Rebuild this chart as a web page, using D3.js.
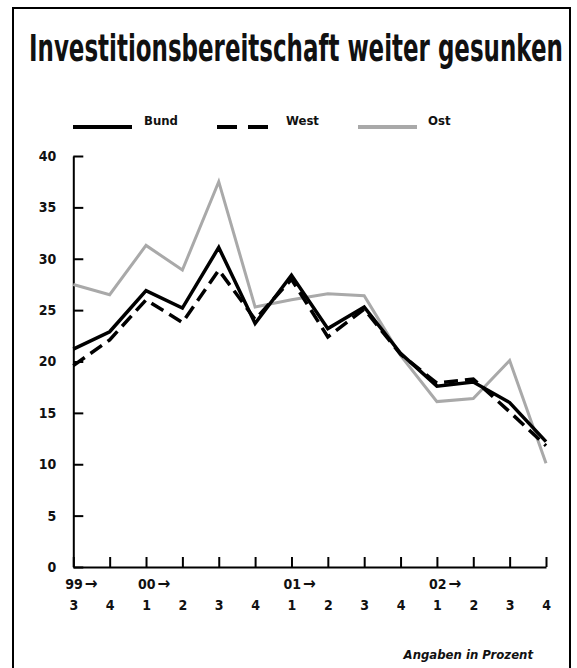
<!DOCTYPE html>
<html>
<head>
<meta charset="utf-8">
<script src="https://cdn.jsdelivr.net/npm/d3@7"></script>
<style>
  body { margin: 0; background: #fff; }
  text { font-family: "DejaVu Sans Condensed", "Liberation Sans Narrow", sans-serif; font-stretch: condensed; font-weight: bold; fill: #111; }
</style>
</head>
<body>
<script>
const w = 577,
  h = 668;

// quarters 1999 Q3 .. 2002 Q4
const quarters = ['3', '4', '1', '2', '3', '4', '1', '2', '3', '4', '1', '2', '3', '4'];
const years = [
  { idx: 0, label: '99' },
  { idx: 2, label: '00' },
  { idx: 6, label: '01' },
  { idx: 10, label: '02' }
];
const bund = [21.2, 22.9, 26.9, 25.2, 31.1, 23.7, 28.4, 23.2, 25.3, 20.8, 17.6, 18.0, 16.0, 12.2];
const west = [19.6, 22.1, 26.0, 23.8, 28.9, 24.1, 28.0, 22.4, 25.1, 20.7, 17.9, 18.3, 15.1, 11.8];
const ost = [27.5, 26.5, 31.3, 28.9, 37.5, 25.3, 26.0, 26.6, 26.4, 20.6, 16.1, 16.4, 20.1, 10.1];
const yTicks = [0, 5, 10, 15, 20, 25, 30, 35, 40];

const series = [
  { name: 'Bund', values: bund, color: '#000', dash: null, width: 3.5 },
  { name: 'West', values: west, color: '#000', dash: '14,7', width: 3.5 },
  { name: 'Ost', values: ost, color: '#a9a9a9', dash: null, width: 3 }
];

const svg = d3.select('body').append('svg').attr('width', w).attr('height', h);

// frame
svg.append('rect')
  .attr('x', 13).attr('y', 8)
  .attr('width', 557).attr('height', 680)
  .attr('fill', 'none').attr('stroke', '#000').attr('stroke-width', 2);

// title: squeeze horizontally to the reference width
const title = svg.append('text')
  .attr('x', 0).attr('y', 0)
  .style('font-size', '38px')
  .text('Investitionsbereitschaft weiter gesunken');
const tw = title.node().getComputedTextLength();
title.attr('transform', `translate(29,61) scale(${534 / tw},1)`);

const x = d3.scaleLinear().domain([0, quarters.length - 1]).range([73.3, 546]);
const y = d3.scaleLinear().domain([0, 40]).range([567, 156]);

// legend
const legend = [
  { s: series[0], x1: 73, x2: 132, tx: 144 },
  { s: series[1], x1: 217, x2: 269, tx: 286 },
  { s: series[2], x1: 358, x2: 417, tx: 428 }
];
legend.forEach(l => {
  svg.append('line')
    .attr('x1', l.x1).attr('x2', l.x2)
    .attr('y1', 127).attr('y2', 127)
    .attr('stroke', l.s.color)
    .attr('stroke-width', 4)
    .attr('stroke-dasharray', l.s.dash ? '20,11' : null);
  svg.append('text')
    .attr('x', l.tx).attr('y', 125)
    .style('font-size', '13px')
    .text(l.s.name);
});

// axes
const yAxis = d3.axisLeft(y)
  .tickValues(yTicks)
  .tickSizeInner(-10)
  .tickSizeOuter(0)
  .tickPadding(17);

const xAxis = d3.axisBottom(x)
  .tickValues(d3.range(quarters.length))
  .tickFormat(i => quarters[i])
  .tickSizeInner(-10)
  .tickSizeOuter(0)
  .tickPadding(33);

const gy = svg.append('g').attr('transform', 'translate(73.3,0)').call(yAxis);
const gx = svg.append('g').attr('transform', 'translate(0,567)').call(xAxis);

[gx, gy].forEach(g => {
  g.select('.domain').attr('stroke', '#000').attr('stroke-width', 2);
  g.selectAll('.tick line').attr('stroke', '#000').attr('stroke-width', 2);
  g.selectAll('.tick text')
    .style('font-family', '"DejaVu Sans Condensed", sans-serif')
    .style('font-weight', 'bold')
    .style('font-size', '14px')
    .attr('fill', '#111');
});

const yl = svg.selectAll('.year')
  .data(years)
  .enter()
  .append('text')
  .attr('class', 'year')
  .attr('x', d => x(d.idx) - 8)
  .attr('y', 589)
  .style('font-size', '14px');
yl.append('tspan').text(d => d.label);
yl.append('tspan')
  .attr('dx', 2)
  .style('font-size', '17px')
  .text('\u2192');

// lines
const line = d3.line()
  .x((d, i) => x(i))
  .y(d => y(d));

svg.selectAll('.series')
  .data(series.slice().reverse())
  .enter()
  .append('path')
  .attr('class', 'series')
  .attr('d', d => line(d.values))
  .attr('fill', 'none')
  .attr('stroke', d => d.color)
  .attr('stroke-width', d => d.width)
  .attr('stroke-dasharray', d => d.dash)
  .attr('stroke-linejoin', 'miter');

svg.append('text')
  .attr('x', 533).attr('y', 659)
  .attr('text-anchor', 'end')
  .style('font-size', '13px')
  .style('font-style', 'italic')
  .text('Angaben in Prozent');
</script>
</body>
</html>
